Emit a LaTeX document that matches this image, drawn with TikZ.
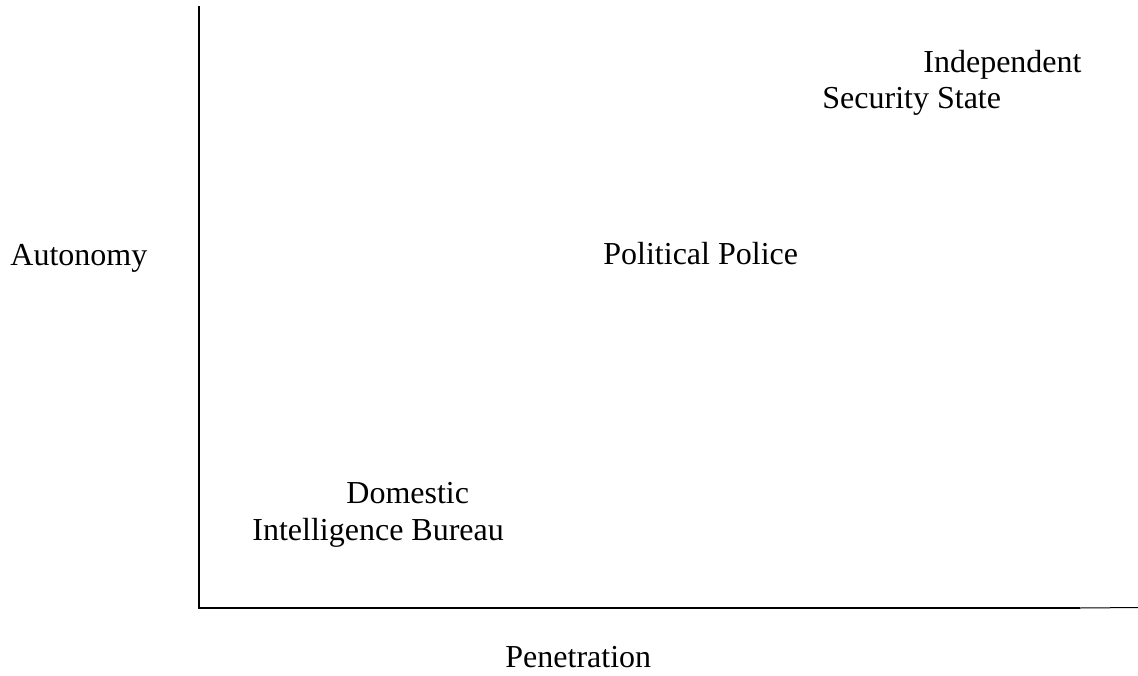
\documentclass[tikz,border=0pt]{standalone}
\usepackage{fontspec}
\setmainfont{Liberation Serif}
\begin{document}
\begin{tikzpicture}[x=0.5pt,y=-0.5pt,
  lbl/.style={anchor=base west,inner sep=0pt,font=\fontsize{16}{19}\selectfont},
  axis/.style={line width=0.85pt,line cap=rect},
  thinaxis/.style={line width=0.5pt}]
\useasboundingbox (0,0) rectangle (1138,675);
\coordinate (top) at (199,7);
\coordinate (origin) at (199,608);
\coordinate (xend) at (1079,608);
\coordinate (xfar) at (1138,607.5);
\draw[axis] (top) -- (origin) -- (xend);
\draw[thinaxis] (xend) -- (xfar);
\node[lbl] (ind) at (923,72) {Independent};
\node[lbl] (sec) at (822,108) {Security State};
\node[lbl] (aut) at (10,265) {Autonomy};
\node[lbl] (pol) at (603,264) {Political Police};
\node[lbl] (dom) at (346,503) {Domestic};
\node[lbl] (intel) at (252,540) {Intelligence Bureau};
\node[lbl] (pen) at (505,667) {Penetration};
\end{tikzpicture}
\end{document}
